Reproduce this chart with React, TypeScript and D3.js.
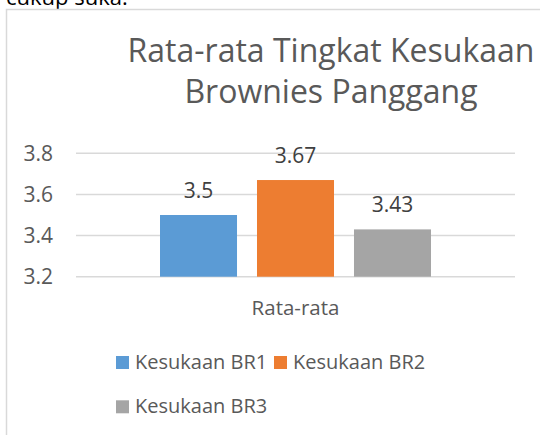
import React, { useEffect, useRef } from 'react';
import * as d3 from 'd3';

const categories = ['Rata-rata'];
const seriesNames = ['Kesukaan BR1', 'Kesukaan BR2', 'Kesukaan BR3'];
const seriesValues = [3.5, 3.67, 3.43];
const seriesColors = ['#5B9BD5', '#ED7D31', '#A5A5A5'];
const yTicks = [3.2, 3.4, 3.6, 3.8];
const titleLines = ['Rata-rata Tingkat Kesukaan', 'Brownies Panggang'];

const FONT = '"Open Sans", sans-serif';
const TEXT = '#595959';

export default function App() {
    const svgRef = useRef<SVGSVGElement>(null);

    useEffect(() => {
        if (!svgRef.current) return;
        const svg = d3.select(svgRef.current);
        svg.selectAll('*').remove();

        const width = 540;
        const height = 435;
        const plot = { left: 76, right: 515, top: 153.3, bottom: 276.7 };

        svg.append('rect').attr('width', width).attr('height', height).attr('fill', '#fff');

        // text from the page above the chart, cut by the crop
        svg.append('text')
            .attr('x', 6)
            .attr('y', 5)
            .attr('fill', '#000')
            .style('font-family', FONT)
            .style('font-size', '22px')
            .text('cukup suka.');

        // chart frame (runs past the crop on right and bottom)
        svg.append('path')
            .attr('d', `M6.5,${height + 2} V9.5 H${width + 2}`)
            .attr('fill', 'none')
            .attr('stroke', '#d9d9d9')
            .attr('stroke-width', 1.5);

        // title
        svg.append('text')
            .attr('text-anchor', 'middle')
            .attr('fill', TEXT)
            .style('font-family', FONT)
            .style('font-size', '32px')
            .selectAll('tspan')
            .data(titleLines)
            .join('tspan')
            .attr('x', 331)
            .attr('y', (_, i) => 61.7 + i * 41.6)
            .text(d => d);

        const y = d3.scaleLinear().domain([3.2, 3.8]).range([plot.bottom, plot.top]);

        const x0 = d3.scaleBand<string>()
            .domain(categories)
            .range([plot.left, plot.right])
            .paddingInner(0)
            .paddingOuter(0.31);

        const x1 = d3.scaleBand<string>()
            .domain(seriesNames)
            .range([0, x0.bandwidth()])
            .paddingInner(0.206)
            .paddingOuter(0);

        // gridlines
        svg.append('g')
            .selectAll('line')
            .data(yTicks)
            .join('line')
            .attr('x1', plot.left)
            .attr('x2', plot.right)
            .attr('y1', d => y(d))
            .attr('y2', d => y(d))
            .attr('stroke', '#d9d9d9')
            .attr('stroke-width', 1.5);

        // y labels
        svg.append('g')
            .selectAll('text')
            .data(yTicks)
            .join('text')
            .attr('x', 53)
            .attr('y', d => y(d))
            .attr('dy', '0.36em')
            .attr('text-anchor', 'end')
            .attr('fill', TEXT)
            .style('font-family', FONT)
            .style('font-size', '21px')
            .text(d => d3.format('.1f')(d));

        // bars
        const group = svg.append('g')
            .selectAll('g')
            .data(categories)
            .join('g')
            .attr('transform', d => `translate(${x0(d)},0)`);

        group.selectAll('rect')
            .data(seriesNames.map((name, i) => ({ name, value: seriesValues[i], color: seriesColors[i] })))
            .join('rect')
            .attr('x', d => x1(d.name)!)
            .attr('width', x1.bandwidth())
            .attr('y', d => y(d.value))
            .attr('height', d => y(3.2) - y(d.value))
            .attr('fill', d => d.color);

        // value labels
        group.selectAll('text')
            .data(seriesNames.map((name, i) => ({ name, value: seriesValues[i] })))
            .join('text')
            .attr('x', d => x1(d.name)! + x1.bandwidth() / 2)
            .attr('y', d => y(d.value) - 17.5)
            .attr('text-anchor', 'middle')
            .attr('fill', '#404040')
            .style('font-family', FONT)
            .style('font-size', '21px')
            .text(d => String(d.value));

        // category label
        svg.append('g')
            .selectAll('text')
            .data(categories)
            .join('text')
            .attr('x', d => x0(d)! + x0.bandwidth() / 2)
            .attr('y', 315)
            .attr('text-anchor', 'middle')
            .attr('fill', TEXT)
            .style('font-family', FONT)
            .style('font-size', '20.5px')
            .text(d => d);

        // legend, two per row
        const legend = svg.append('g')
            .selectAll('g')
            .data(seriesNames)
            .join('g')
            .attr('transform', (_, i) => `translate(${116 + (i % 2) * 158},${369 + Math.floor(i / 2) * 44.3})`);

        legend.append('rect')
            .attr('x', 0)
            .attr('y', -13)
            .attr('width', 13)
            .attr('height', 13)
            .attr('fill', (_, i) => seriesColors[i]);

        legend.append('text')
            .attr('x', 19)
            .attr('y', 0)
            .attr('fill', TEXT)
            .style('font-family', FONT)
            .style('font-size', '20px')
            .text(d => d);
    }, []);

    return (
        <div style={{ position: 'fixed', left: 0, top: 0 }}>
            <svg ref={svgRef} width={540} height={435} style={{ display: 'block' }} />
        </div>
    );
}
